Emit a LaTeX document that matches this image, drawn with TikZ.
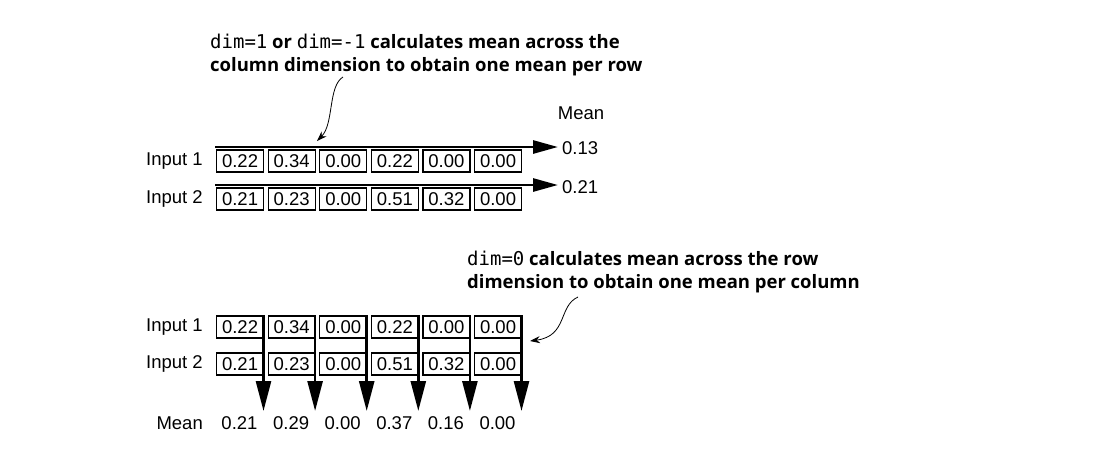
\documentclass[tikz,border=0pt]{standalone}
\usepackage{fontspec}
\setmainfont{Liberation Sans}
\newfontfamily\calloutfont{Open Sans}
\newfontfamily\codefont{DejaVu Sans Mono}
\usetikzlibrary{arrows.meta}
\begin{document}
\begin{tikzpicture}[x=1pt,y=-1pt,
  cell/.style={draw,line width=1.1pt,minimum width=47pt,minimum height=22pt,inner sep=0pt,anchor=west,font=\fontsize{18.5}{20}\selectfont},
  lbl/.style={inner sep=0pt,font=\fontsize{18.5}{20}\selectfont},
  bigarrow/.style={line width=2.8pt,-{Triangle[length=25pt,width=13pt]}},
  downarrow/.style={line width=2.6pt,-{Triangle[length=30pt,width=15pt]}},
  callout/.style={inner sep=0pt,anchor=west,align=left,font=\calloutfont\bfseries\fontsize{18.5}{23.5}\selectfont},
  pointer/.style={line width=0.8pt,-{Stealth[length=10pt,width=7pt]}}]
\newcommand{\cd}[1]{{\codefont\mdseries\fontsize{19}{20}\selectfont #1}}
\useasboundingbox (0,0) rectangle (1101,451);
\fill[white] (0,0) rectangle (1101,451);

% ---------- top section ----------
\node[callout] (c1) at (210,55) {\cd{dim=1} or \cd{dim=-1} calculates mean across the\\column dimension to obtain one mean per row};
\node[lbl] (tmean) at (581,113) {Mean};

\node[lbl,anchor=east] (ti1) at (203,161) {Input 1};
\node[lbl,anchor=east] (ti2) at (203,199) {Input 2};

\foreach \v [count=\i] in {0.22,0.34,0.00,0.22,0.00,0.00}
  \node[cell] (ta\i) at ({216+51.6*(\i-1)},161) {\v};
\foreach \v [count=\i] in {0.21,0.23,0.00,0.51,0.32,0.00}
  \node[cell] (tb\i) at ({216+51.6*(\i-1)},199) {\v};

\coordinate (ta0) at (215,147);
\coordinate (tae) at (558,147);
\coordinate (tb0) at (215,185);
\coordinate (tbe) at (558,185);
\draw[bigarrow] (ta0) -- (tae);
\draw[bigarrow] (tb0) -- (tbe);
\node[lbl,anchor=west] (tr1) at (562,148) {0.13};
\node[lbl,anchor=west] (tr2) at (562,187) {0.21};

\coordinate (p1s) at (343,77);
\coordinate (p1e) at (317,141);
\draw[pointer] (p1s) .. controls (328,86) and (334,124) .. (p1e);

% ---------- bottom section ----------
\node[callout] (c2) at (467,272) {\cd{dim=0} calculates mean across the row\\dimension to obtain one mean per column};

\node[lbl,anchor=east] (bi1) at (203,327) {Input 1};
\node[lbl,anchor=east] (bi2) at (203,364) {Input 2};
\node[lbl,anchor=east] (bmean) at (203,423) {Mean};

\foreach \v [count=\i] in {0.22,0.34,0.00,0.22,0.00,0.00}
  \node[cell] (ba\i) at ({216+51.6*(\i-1)},327) {\v};
\foreach \v [count=\i] in {0.21,0.23,0.00,0.51,0.32,0.00}
  \node[cell] (bb\i) at ({216+51.6*(\i-1)},364) {\v};

\foreach \v [count=\i] in {0.21,0.29,0.00,0.37,0.16,0.00} {
  \coordinate (bs\i) at ({216+51.6*(\i-1)+47.5},315);
  \coordinate (be\i) at ({216+51.6*(\i-1)+47.5},411);
  \draw[downarrow] (bs\i) -- (be\i);
  \node[lbl] (bm\i) at ({216+51.6*(\i-1)+23.5},423) {\v};
}

\coordinate (p2s) at (578,297);
\coordinate (p2e) at (530,341);
\draw[pointer] (p2s) .. controls (558,306) and (568,336) .. (p2e);
\end{tikzpicture}
\end{document}
